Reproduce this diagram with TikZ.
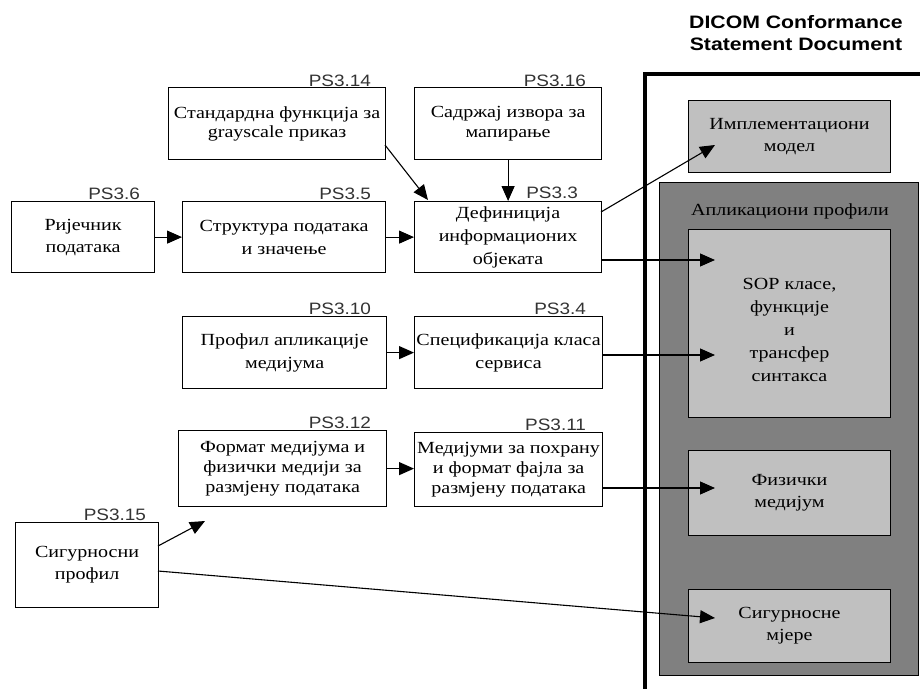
\documentclass[tikz,border=0pt]{standalone}
\usepackage{fontspec}
\setmainfont{Liberation Serif}[FakeStretch=1.18]
\newfontfamily\labfont{Liberation Sans}[FakeStretch=1.15]
\newfontfamily\headfont{Liberation Sans}[FakeStretch=1.18]
\usetikzlibrary{arrows.meta,calc}
\definecolor{panelgray}{HTML}{808080}
\definecolor{boxgray}{HTML}{C0C0C0}
\definecolor{labgray}{HTML}{333333}
\begin{document}
\begin{tikzpicture}[x=1pt,y=-1pt,
  box/.style={draw, line width=1.2pt, fill=white, align=center, inner sep=0pt, anchor=north west,
    font=\fontsize{17}{22}\selectfont},
  gbox/.style={box, fill=boxgray, line width=1pt},
  pslab/.style={anchor=base east, inner sep=0pt, text=labgray, font=\labfont\fontsize{16.5}{18}\selectfont},
  conn/.style={line width=1.1pt, -{Triangle[length=15pt,width=13pt]}},
]
\useasboundingbox (0,0) rectangle (920,688);
\clip (0,0) rectangle (920,688);

% header
\node[align=center, font=\headfont\bfseries\fontsize{18}{22}\selectfont, inner sep=0pt] (head) at (796,33)
  {DICOM Conformance\\Statement Document};

% outer document frame
\draw[line width=4pt] (645,74) rectangle (940,710);

% application profiles panel
\node[draw, line width=1pt, fill=panelgray, anchor=north west, minimum width=259, minimum height=493, inner sep=0pt] (ap) at (659,182) {};
\node[font=\fontsize{17}{22}\selectfont, inner sep=0pt] (aplab) at (790,211) {Апликациони профили};

% right-hand light boxes
\node[gbox, minimum width=202, minimum height=72] (impl) at (688,100) {Имплементациони\\модел};
\node[gbox, minimum width=202, minimum height=188] (sop) at (688,229) {};
\node[align=center, inner sep=0pt, font=\fontsize{17}{23}\selectfont] (soptext) at ([yshift=-6pt]sop.center) {SOP класе,\\функције\\и\\трансфер\\синтакса};
\node[gbox, minimum width=202, minimum height=85] (phys) at (688,450) {Физички\\медијум};
\node[gbox, minimum width=202, minimum height=73] (secm) at (688,589) {Сигурносне\\мјере};

% left boxes
\node[box, minimum width=217, minimum height=72, font=\fontsize{17}{19}\selectfont] (std) at (168,87) {Стандардна функција за\\grayscale приказ};
\node[box, minimum width=187, minimum height=72, font=\fontsize{17}{20}\selectfont] (sad) at (414,87) {Садржај извора за\\мапирање};
\node[box, minimum width=143, minimum height=71] (ric) at (11,201) {Ријечник\\података};
\node[box, minimum width=203, minimum height=71, font=\fontsize{17}{23}\selectfont] (str) at (182,201) {Структура података\\и значење};
\node[box, minimum width=187, minimum height=71, font=\fontsize{17}{23}\selectfont] (def) at (414,201) {Дефиниција\\информационих\\објеката};
\node[box, minimum width=204, minimum height=72, font=\fontsize{17}{23}\selectfont] (pro) at (182,316) {Профил апликације\\медијума};
\node[box, minimum width=188, minimum height=72, font=\fontsize{17}{23}\selectfont] (spe) at (414,316) {Спецификација класа\\сервиса};
\node[box, minimum width=208, minimum height=76, font=\fontsize{17}{20}\selectfont] (fmt) at (178,430) {Формат медијума и\\физички медији за\\размјену података};
\node[box, minimum width=188, minimum height=74, font=\fontsize{17}{20}\selectfont] (med) at (414,432) {Медијуми за похрану\\и формат фајла за\\размјену података};
\node[box, minimum width=143, minimum height=85] (sig) at (15,522) {Сигурносни\\профил};

% PS labels
\node[pslab] (l14) at ([xshift=-15pt,yshift=1pt]std.north east) {PS3.14};
\node[pslab] (l16) at ([xshift=-16pt,yshift=1pt]sad.north east) {PS3.16};
\node[pslab] (l6)  at ([xshift=-15pt,yshift=2pt]ric.north east) {PS3.6};
\node[pslab] (l5)  at ([xshift=-15pt,yshift=2pt]str.north east) {PS3.5};
\node[pslab] (l3)  at ([xshift=-24pt,yshift=3pt]def.north east) {PS3.3};
\node[pslab] (l10) at ([xshift=-16pt,yshift=2pt]pro.north east) {PS3.10};
\node[pslab] (l4)  at ([xshift=-17pt,yshift=2pt]spe.north east) {PS3.4};
\node[pslab] (l12) at ([xshift=-16pt,yshift=2pt]fmt.north east) {PS3.12};
\node[pslab] (l11) at ([xshift=-17pt,yshift=2pt]med.north east) {PS3.11};
\node[pslab] (l15) at ([xshift=-13pt,yshift=2pt]sig.north east) {PS3.15};

% target coordinates inside the right panel
\coordinate (tImpl) at (715,145);
\coordinate (tSop1) at (715,260);
\coordinate (tSop2) at (715,355);
\coordinate (tPhys) at (715,488);
\coordinate (tSec)  at (715,618);
\coordinate (tFmt)  at (205,521);
\coordinate (tDef)  at (428,200);
\coordinate (sStd)  at (385,145);
\coordinate (sDef1) at (601,212);
\coordinate (sSig1) at (158,546);
\coordinate (sSig2) at (158,571);

% connectors
\draw[conn] (ric.east) -- (str.west);
\draw[conn] (str.east) -- (def.west);
\draw[conn] (sStd) -- (tDef);
\draw[conn] (sad.south) -- (sad.south |- def.north);
\draw[conn] (sDef1) -- (tImpl);
\draw[conn] (def.east |- tSop1) -- (tSop1);
\draw[conn] (pro.east) -- (spe.west);
\draw[conn] (spe.east |- tSop2) -- (tSop2);
\draw[conn] (fmt.east) -- (med.west |- fmt.east);
\draw[conn] (med.east |- tPhys) -- (tPhys);
\draw[conn] (sSig1) -- (tFmt);
\draw[conn] (sSig2) -- (tSec);
\end{tikzpicture}
\end{document}
